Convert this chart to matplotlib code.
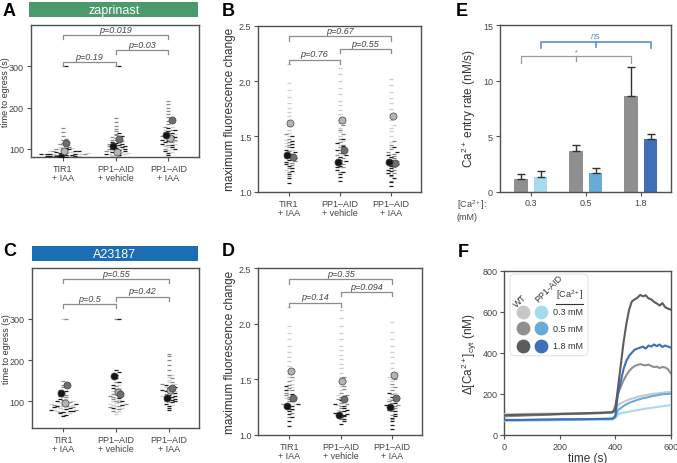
import numpy as np
import matplotlib
matplotlib.use("Agg")
import matplotlib.pyplot as plt
import matplotlib.transforms as mtransforms
from matplotlib.patches import FancyBboxPatch

plt.rcParams["font.family"] = ["Liberation Sans", "DejaVu Sans"]
plt.rcParams["mathtext.fontset"] = "custom"
plt.rcParams["mathtext.rm"] = "Liberation Sans"
plt.rcParams["mathtext.it"] = "Liberation Sans:italic"
plt.rcParams["text.color"] = "#333333"
plt.rcParams["axes.labelcolor"] = "#333333"

# ---- data ---------------------------------------------------------------
groups = ["TIR1\n+ IAA", "PP1\u2013AID\n+ vehicle", "PP1\u2013AID\n+ IAA"]

# time to egress (s), replicates: light / mid / dark
egress_zap_tir1 = [[80, 81, 82, 83, 84, 85, 85, 86, 87, 88, 88, 89, 90, 91, 92, 94, 96, 98, 101, 104, 108, 300],
                   [82, 85, 88, 90, 93, 96, 99, 102, 105, 108, 111, 114, 117, 120, 124, 130, 140, 150],
                   [80, 80, 81, 82, 82, 83, 84, 85, 86, 86, 87, 88, 90, 91, 93, 95, 98, 102, 300]]
egress_zap_veh = [[78, 80, 82, 83, 84, 85, 86, 87, 88, 89, 90, 92, 94, 96, 99, 103, 108, 300],
                  [90, 95, 100, 103, 106, 109, 112, 115, 118, 120, 122, 125, 128, 132, 136, 142, 148, 155, 165, 175],
                  [84, 88, 91, 94, 96, 98, 100, 102, 104, 106, 108, 110, 113, 116, 120, 125, 130, 138, 300]]
egress_zap_iaa = [[92, 96, 100, 103, 106, 109, 112, 115, 118, 120, 122, 125, 128, 131, 135, 140, 146, 152],
                  [100, 108, 115, 122, 130, 138, 145, 152, 160, 168, 176, 184, 192, 200, 208, 215],
                  [84, 90, 95, 100, 104, 108, 112, 116, 119, 122, 125, 128, 131, 134, 138, 142, 146, 150]]
egress_zap_means = [[93, 113, 80], [92, 123, 106], [125, 170, 133]]
egress_zap_p = ["p=0.19", "p=0.03", "p=0.019"]

egress_a23_tir1 = [[68, 72, 75, 78, 80, 82, 84, 86, 88, 89, 90, 92, 94, 96, 98, 101, 105, 110, 116, 300],
                   [75, 80, 86, 92, 98, 104, 110, 116, 122, 128, 134, 140, 150, 300],
                   [64, 68, 71, 74, 76, 78, 80, 82, 84, 86, 88, 90, 93, 96, 100, 106, 114, 125]]
egress_a23_veh = [[70, 74, 78, 82, 85, 88, 91, 94, 97, 100, 104, 108, 112, 116, 120, 126, 132, 140],
                  [78, 82, 86, 90, 94, 98, 102, 106, 110, 114, 118, 124, 130, 138, 146, 300],
                  [84, 92, 100, 108, 116, 124, 132, 140, 148, 156, 164, 170, 175, 300]]
egress_a23_iaa = [[92, 98, 104, 109, 114, 118, 122, 126, 130, 134, 138, 142, 147, 152, 158, 165],
                  [100, 106, 112, 118, 124, 130, 136, 142, 148, 156, 164, 175, 188, 200, 210, 215],
                  [80, 85, 90, 94, 98, 101, 104, 107, 110, 113, 116, 120, 124, 128, 134, 140]]
egress_a23_means = [[95, 140, 120], [123, 118, 162], [128, 133, 108]]
egress_a23_p = ["p=0.5", "p=0.42", "p=0.55"]

# maximum fluorescence change
fluo_zap_tir1 = [[1.2, 1.26, 1.3, 1.34, 1.38, 1.41, 1.44, 1.47, 1.5, 1.53, 1.56, 1.59, 1.62, 1.65, 1.68, 1.72, 1.76, 1.8, 1.86, 1.92, 1.98, 2.15],
                 [1.14, 1.18, 1.21, 1.24, 1.26, 1.28, 1.3, 1.31, 1.33, 1.35, 1.37, 1.4, 1.42, 1.45, 1.48, 1.52],
                 [1.08, 1.12, 1.16, 1.19, 1.21, 1.23, 1.25, 1.27, 1.29, 1.3, 1.32, 1.34, 1.36, 1.38, 1.4, 1.43, 1.46, 1.5]]
fluo_zap_veh = [[1.22, 1.28, 1.33, 1.38, 1.42, 1.46, 1.5, 1.54, 1.58, 1.62, 1.66, 1.7, 1.74, 1.78, 1.82, 1.88, 1.94, 2.0, 2.06, 2.12],
                [1.18, 1.22, 1.25, 1.28, 1.3, 1.33, 1.35, 1.38, 1.4, 1.42, 1.45, 1.48, 1.52, 1.56, 1.6, 1.65],
                [1.1, 1.13, 1.16, 1.18, 1.2, 1.22, 1.23, 1.25, 1.26, 1.28, 1.29, 1.31, 1.33, 1.35, 1.38, 1.41, 1.44, 1.48]]
fluo_zap_iaa = [[1.28, 1.34, 1.4, 1.45, 1.5, 1.55, 1.58, 1.6, 1.65, 1.7, 1.75, 1.8, 1.85, 1.9, 1.96, 2.02],
                [1.1, 1.14, 1.17, 1.2, 1.22, 1.24, 1.25, 1.26, 1.28, 1.3, 1.32, 1.34, 1.36, 1.39, 1.42, 1.46],
                [1.05, 1.09, 1.12, 1.15, 1.17, 1.19, 1.2, 1.21, 1.23, 1.25, 1.27, 1.29, 1.31, 1.33, 1.36, 1.4]]
fluo_zap_means = [[1.62, 1.31, 1.33], [1.65, 1.38, 1.27], [1.68, 1.26, 1.27]]
fluo_zap_p = ["p=0.76", "p=0.55", "p=0.67"]

fluo_a23_tir1 = [[1.22, 1.28, 1.33, 1.37, 1.4, 1.43, 1.46, 1.49, 1.52, 1.55, 1.58, 1.62, 1.66, 1.7, 1.75, 1.8, 1.86, 1.92, 1.98, 2.15],
                 [1.16, 1.2, 1.23, 1.26, 1.28, 1.3, 1.32, 1.33, 1.34, 1.36, 1.38, 1.4, 1.42, 1.45, 1.48, 1.52],
                 [1.08, 1.12, 1.16, 1.19, 1.21, 1.23, 1.25, 1.26, 1.27, 1.28, 1.3, 1.32, 1.34, 1.37, 1.4, 1.44]]
fluo_a23_veh = [[1.22, 1.27, 1.32, 1.36, 1.4, 1.44, 1.48, 1.52, 1.56, 1.6, 1.64, 1.68, 1.72, 1.76, 1.8, 1.86, 1.92, 1.98, 2.05, 2.12],
                [1.14, 1.18, 1.21, 1.24, 1.26, 1.28, 1.29, 1.3, 1.32, 1.34, 1.36, 1.38, 1.41, 1.44, 1.48, 1.52],
                [1.1, 1.12, 1.14, 1.16, 1.17, 1.18, 1.18, 1.19, 1.2, 1.21, 1.22, 1.24, 1.26, 1.28, 1.31, 1.35]]
fluo_a23_iaa = [[1.26, 1.32, 1.38, 1.43, 1.48, 1.5, 1.52, 1.56, 1.6, 1.65, 1.7, 1.75, 1.8, 1.86, 1.93, 2.02],
                [1.14, 1.18, 1.21, 1.24, 1.26, 1.27, 1.29, 1.3, 1.31, 1.33, 1.35, 1.37, 1.4, 1.43, 1.46, 1.5],
                [1.05, 1.09, 1.12, 1.15, 1.17, 1.19, 1.21, 1.22, 1.23, 1.25, 1.26, 1.27, 1.29, 1.31, 1.34, 1.38]]
fluo_a23_means = [[1.57, 1.33, 1.26], [1.48, 1.32, 1.18], [1.54, 1.33, 1.25]]
fluo_a23_p = ["p=0.14", "p=0.094", "p=0.35"]

# Ca2+ entry rate (nM/s)
conc = ["0.3", "0.5", "1.8"]
wt_rate = [1.14, 3.68, 8.65]
wt_err = [0.48, 0.54, 2.58]
pp1_rate = [1.32, 1.65, 4.76]
pp1_err = [0.57, 0.51, 0.45]

# cytosolic Ca2+ traces (nM)
time_s = [0, 50, 100, 150, 200, 250, 300, 350, 390, 400, 410, 420, 430, 440, 450,
          460, 470, 480, 490, 500, 510, 520, 530, 540, 550, 560, 570, 580, 590, 600]
wt_03 = [100, 101, 102, 103, 104, 105, 106, 108, 110, 115, 145, 153, 160, 166, 172,
         176, 180, 185, 188, 190, 193, 196, 198, 200, 201, 203, 205, 206, 207, 208]
wt_05 = [90, 92, 95, 97, 100, 101, 103, 105, 108, 140, 200, 235, 265, 290, 310,
         325, 335, 340, 345, 340, 338, 342, 335, 330, 332, 325, 330, 328, 320, 300]
wt_18 = [95, 97, 98, 99, 101, 103, 105, 107, 110, 120, 230, 340, 450, 540, 610,
         650, 660, 668, 682, 675, 680, 665, 660, 648, 640, 630, 642, 622, 615, 610]
pp1_03 = [68, 68, 69, 70, 71, 72, 72, 73, 74, 80, 100, 104, 107, 110, 112,
          115, 118, 120, 122, 125, 127, 129, 131, 133, 135, 137, 139, 141, 143, 145]
pp1_05 = [70, 71, 72, 73, 74, 75, 76, 77, 78, 85, 120, 130, 140, 148, 155,
          160, 165, 170, 174, 178, 180, 184, 187, 190, 192, 195, 197, 198, 199, 200]
pp1_18 = [72, 72, 73, 74, 75, 75, 76, 77, 78, 90, 200, 260, 320, 360, 385,
          400, 415, 420, 425, 430, 420, 435, 430, 440, 432, 440, 428, 435, 430, 425]

# ---- styles -------------------------------------------------------------
POINT_COLORS = ["#cdcdcd", "#8a8a8a", "#1e1e1e"]
MEAN_COLORS = ["#b4b4b4", "#6e6e6e", "#151515"]
MEAN_DX = [0.03, 0.07, -0.04]
SPINE = "#505050"
BRACKET = "#8c8c8c"
GRAYS = ["#c8c8c8", "#8f8f8f", "#5c5c5c"]
BLUES = ["#a6dbee", "#6aaad6", "#3e6fb8"]


def style_axes(ax):
    for s in ax.spines.values():
        s.set_color(SPINE)
        s.set_linewidth(1.0)
    ax.tick_params(labelsize=6.5, length=3, width=0.8, color=SPINE, labelcolor="#444444", pad=2)


def swarm_x(vals, center, bin_size, step):
    rows = np.round(np.asarray(vals) / bin_size).astype(int)
    xs = np.empty(len(vals))
    used = {}
    for i in np.argsort(vals, kind="stable"):
        r = rows[i]
        k = used.get(r, 0)
        used[r] = k + 1
        side = 1 if k % 2 else -1
        xs[i] = center + ((k + 1) // 2) * step * side
    return xs


def bracket(ax, x1, x2, y, drop, label):
    tr = mtransforms.blended_transform_factory(ax.transData, ax.transAxes)
    ax.plot([x1, x1, x2, x2], [y - drop, y, y, y - drop], color=BRACKET, lw=0.9,
            transform=tr, clip_on=False, zorder=7)
    ax.text((x1 + x2) / 2, y + 0.008, label, transform=tr, ha="center", va="bottom",
            fontsize=6.5, style="italic", color="#444444")


def swarm_panel(ax, reps_by_group, means, ylim, yticks, ylabel, ylab_size, pvals, bl):
    bin_size = (ylim[1] - ylim[0]) * 0.018
    for gi, reps in enumerate(reps_by_group):
        vals = np.concatenate([np.asarray(r, float) for r in reps])
        shade = np.concatenate([[k] * len(r) for k, r in enumerate(reps)])
        xs = swarm_x(vals, gi, bin_size, 0.06)
        for k in range(3):
            m = shade == k
            ax.plot(xs[m], vals[m], ls="none", marker="_", ms=3.0, mew=0.9,
                    color=POINT_COLORS[k], zorder=2 + k)
        for k in range(3):
            ax.scatter(gi + MEAN_DX[k], means[gi][k], s=26, color=MEAN_COLORS[k],
                       edgecolor="#444444", linewidth=0.5, zorder=6)
    ax.set_xlim(-0.6, 2.58)
    ax.set_ylim(*ylim)
    ax.set_yticks(yticks)
    ax.set_xticks(range(3))
    ax.set_xticklabels(groups, fontsize=6.5, linespacing=1.0)
    ax.set_ylabel(ylabel, fontsize=ylab_size, labelpad=2)
    style_axes(ax)
    bracket(ax, 0, 1, bl[0], bl[3], pvals[0])
    bracket(ax, 1, 2, bl[1], bl[3], pvals[1])
    bracket(ax, 0, 2, bl[2], bl[3], pvals[2])


fig = plt.figure(figsize=(6.77, 4.64), dpi=100)

# ---- A / C: time to egress ---------------------------------------------
for rect, brect, name, color, data, means, ylim, pv, bl in [
    ([0.0458, 0.6590, 0.2482, 0.2840], [0.0433, 0.9612, 0.2496, 0.0323], "zaprinast", "#4a9a6c",
     [egress_zap_tir1, egress_zap_veh, egress_zap_iaa], egress_zap_means, (79, 400),
     egress_zap_p, (0.726, 0.815, 0.924, 0.03)),
    ([0.0468, 0.0748, 0.2476, 0.3448], [0.0468, 0.4360, 0.2462, 0.0323], "A23187", "#1b6db4",
     [egress_a23_tir1, egress_a23_veh, egress_a23_iaa], egress_a23_means, (35, 422),
     egress_a23_p, (0.777, 0.823, 0.933, 0.025)),
]:
    ax = fig.add_axes(rect)
    swarm_panel(ax, data, means, ylim, [100, 200, 300], "time to egress (s)", 6.5, pv, bl)
    ax.yaxis.set_label_coords(-0.125, 0.5)
    bax = fig.add_axes(brect)
    bax.set_facecolor(color)
    bax.set_xticks([])
    bax.set_yticks([])
    for s in bax.spines.values():
        s.set_visible(False)
    bax.text(0.5, 0.45, name, color="white", fontsize=9, ha="center", va="center",
             transform=bax.transAxes)

# ---- B / D: maximum fluorescence change ----------------------------------
for rect, data, means, pv, bl in [
    ([0.3815, 0.5847, 0.2400, 0.3578], [fluo_zap_tir1, fluo_zap_veh, fluo_zap_iaa],
     fluo_zap_means, fluo_zap_p, (0.795, 0.86, 0.936, 0.026)),
    ([0.3815, 0.0610, 0.2420, 0.3586], [fluo_a23_tir1, fluo_a23_veh, fluo_a23_iaa],
     fluo_a23_means, fluo_a23_p, (0.793, 0.857, 0.934, 0.026)),
]:
    ax = fig.add_axes(rect)
    swarm_panel(ax, data, means, (1.0, 2.5), [1.0, 1.5, 2.0, 2.5],
                "maximum fluorescence change", 8.5, pv, bl)
    ax.set_yticklabels(["1.0", "1.5", "2.0", "2.5"])

# ---- E: Ca2+ entry rate ---------------------------------------------------
ax = fig.add_axes([0.7386, 0.5851, 0.2521, 0.3588])
x = np.arange(len(conc))
ekw = dict(ecolor="#333333", elinewidth=1.0, capsize=3, capthick=1.0)
ax.bar(x - 0.18, wt_rate, width=0.24, color="#8f8f8f",
       yerr=[np.zeros(len(conc)), wt_err], error_kw=ekw, zorder=2)
ax.bar(x + 0.18, pp1_rate, width=0.24, color=BLUES,
       yerr=[np.zeros(len(conc)), pp1_err], error_kw=ekw, zorder=2)
ax.set_xlim(-0.56, 2.54)
ax.set_ylim(0, 15)
ax.set_yticks([0, 5, 10, 15])
ax.set_xticks(x)
ax.set_xticklabels(conc)
ax.set_ylabel("Ca$^{2+}$ entry rate (nM/s)", fontsize=8.5, labelpad=4)
style_axes(ax)
ax.text(-0.255, -0.035, "[Ca$^{2+}$]:\n(mM)", transform=ax.transAxes, fontsize=6.5,
        ha="left", va="top", color="#444444", linespacing=1.2)
# brackets
gx = x - 0.18
px = x + 0.18
ax.plot([gx[0], gx[0], gx[2], gx[2]], [11.6, 12.2, 12.2, 11.6], color="#9a9a9a", lw=0.9)
ax.plot([gx[1], gx[1]], [12.2, 11.75], color="#9a9a9a", lw=0.9)
ax.text(gx[1], 12.25, "*", ha="center", va="bottom", fontsize=5, color="#777777")
ax.plot([px[0], px[0], px[2], px[2]], [12.95, 13.5, 13.5, 12.95], color="#5b8ed8", lw=1.2)
ax.plot([px[1], px[1]], [13.5, 13.0], color="#5b8ed8", lw=1.2)
ax.text(px[1], 13.65, "ns", ha="center", va="bottom", fontsize=6.5, style="italic",
        color="#5b8ed8")

# ---- F: cytosolic Ca2+ traces ---------------------------------------------
ax = fig.add_axes([0.7449, 0.0610, 0.2458, 0.3534])
for y, c in [(pp1_03, BLUES[0]), (wt_03, GRAYS[0]), (pp1_05, BLUES[1]),
             (wt_05, GRAYS[1]), (pp1_18, BLUES[2]), (wt_18, GRAYS[2])]:
    ax.plot(time_s, y, color=c, lw=1.5, zorder=3)
ax.set_xlim(0, 600)
ax.set_ylim(0, 800)
ax.set_xticks([0, 200, 400, 600])
ax.set_yticks([0, 200, 400, 600, 800])
ax.set_xlabel("time (s)", fontsize=8.5, labelpad=1)
ax.set_ylabel("\u0394[Ca$^{2+}$]$_{\\rm cyt}$ (nM)", fontsize=8.5, labelpad=2)
style_axes(ax)
# legend drawn by hand
T = ax.transAxes
ax.add_patch(FancyBboxPatch((0.034, 0.482), 0.469, 0.498, transform=T,
                            boxstyle="round,pad=0,rounding_size=0.03",
                            facecolor="white", edgecolor="#e3e3e3", lw=0.8, zorder=5))
rows_y = [0.75, 0.649, 0.543]
for i, lab in enumerate(["0.3 mM", "0.5 mM", "1.8 mM"]):
    ax.scatter([0.111], [rows_y[i]], s=80, color=GRAYS[i], transform=T, zorder=6)
    ax.scatter([0.219], [rows_y[i]], s=80, color=BLUES[i], transform=T, zorder=6)
    ax.text(0.38, rows_y[i], lab, transform=T, fontsize=6.5, ha="center", va="center",
            zorder=6)
ax.text(0.115, 0.80, "WT", transform=T, rotation=45, fontsize=6.5, ha="center",
        va="bottom", rotation_mode="anchor", zorder=6)
ax.text(0.215, 0.80, "PP1-AID", transform=T, rotation=45, fontsize=6.5, ha="left",
        va="bottom", rotation_mode="anchor", zorder=6)
ax.text(0.395, 0.815, "[Ca$^{2+}$]", transform=T, fontsize=6.5, ha="center",
        va="bottom", zorder=6)
ax.plot([0.31, 0.47], [0.80, 0.80], color="#333333", lw=0.8, transform=T, zorder=6)

# ---- panel letters ---------------------------------------------------------
for lab, xp, yp in [("A", 3, 12), ("B", 222, 12), ("E", 456, 12),
                    ("C", 3, 252), ("D", 222, 252), ("F", 458, 253)]:
    fig.text(xp / 677, 1 - yp / 464, lab, fontsize=13, fontweight="bold",
             ha="left", va="center", color="black")

fig.savefig("out.png", dpi=100)
